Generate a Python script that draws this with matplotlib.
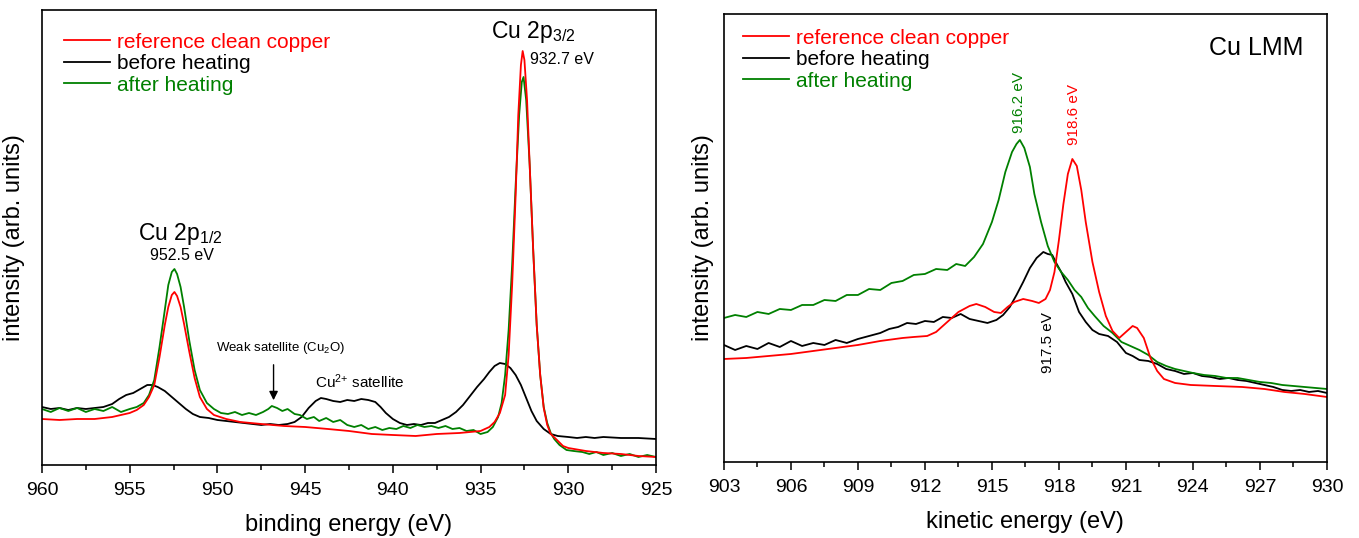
import matplotlib.pyplot as plt
from matplotlib.ticker import MultipleLocator

plt.rcParams['font.family'] = ['Liberation Sans', 'DejaVu Sans']
plt.rcParams['mathtext.fontset'] = 'custom'
plt.rcParams['mathtext.rm'] = 'Liberation Sans'
plt.rcParams['mathtext.default'] = 'regular'

# ---- Cu 2p (binding energy, eV) ----
be_red = [960, 959, 958, 957, 956, 955.5, 955, 954.6, 954.2, 953.9, 953.6, 953.3, 953.0, 952.8,
          952.6, 952.45, 952.3, 952.1, 951.9, 951.6, 951.3, 951.0, 950.6, 950.2, 949.5, 948.7,
          947.5, 946.2, 945, 943.7, 942.5, 941.2, 940, 938.7, 937.5, 936.2, 935.0, 934.5, 934.2,
          933.9, 933.6, 933.4, 933.2, 933.0, 932.85, 932.7, 932.6, 932.5, 932.35, 932.2, 932.0,
          931.8, 931.6, 931.4, 931.2, 931.0, 930.7, 930.3, 930.0, 929, 928, 927, 926, 925]
i_red = [46, 45, 46, 46, 48, 50, 52, 55, 60, 68, 80, 108, 140, 158,
         170, 173, 169, 158, 141, 113, 87, 68, 56, 50, 46, 43,
         41, 39, 38, 36, 34, 31, 30, 29, 31, 32, 34, 38, 43,
         52, 70, 110, 180, 270, 350, 400, 414, 405, 365, 300, 215,
         140, 90, 57, 40, 31, 26, 19, 17, 14, 12, 11, 9, 8]

be_black = [960, 959.5, 959, 958.5, 958, 957.5, 957, 956.5, 956, 955.6, 955.2, 954.8, 954.4, 954.0,
            953.7, 953.4, 953.0, 952.6, 952.2, 951.8, 951.4, 951.0, 950.5, 950.0, 949.5, 949.0,
            948.5, 948.0, 947.5, 947.0, 946.5, 946.0, 945.6, 945.2, 944.8, 944.4, 944.1, 943.8,
            943.4, 943.0, 942.6, 942.2, 941.8, 941.4, 941.0, 940.7, 940.4, 940.0, 939.6, 939.2,
            938.8, 938.4, 938.0, 937.6, 937.2, 936.8, 936.4, 936.0, 935.6, 935.2, 934.8, 934.5,
            934.2, 933.9, 933.6, 933.3, 933.0, 932.7, 932.4, 932.1, 931.8, 931.4, 931.0, 930.6,
            930.0, 929.5, 929.0, 928.5, 928, 927, 926, 925]
i_black = [58, 56, 57, 55, 57, 56, 57, 58, 61, 66, 70, 72, 76, 80,
           80, 78, 74, 68, 62, 56, 51, 48, 47, 45, 44, 43,
           42, 41, 40, 41, 40, 41, 43, 48, 57, 64, 67, 66,
           64, 63, 65, 64, 66, 65, 63, 58, 52, 46, 42, 40,
           41, 40, 42, 42, 45, 48, 53, 60, 69, 78, 86, 93,
           99, 102, 101, 97, 90, 80, 67, 54, 44, 36, 31, 29,
           28, 27, 28, 27, 28, 27, 27, 26]

be_green = [960, 959.5, 959, 958.5, 958, 957.5, 957, 956.5, 956, 955.5, 955, 954.6, 954.2, 953.9,
            953.6, 953.3, 953.0, 952.8, 952.6, 952.45, 952.3, 952.1, 951.9, 951.6, 951.3, 951.0,
            950.6, 950.2, 949.8, 949.4, 949.0, 948.6, 948.2, 947.8, 947.4, 947.1, 946.9, 946.6,
            946.3, 946.0, 945.6, 945.3, 944.9, 944.5, 944.2, 943.8, 943.4, 943.0, 942.6, 942.2,
            941.8, 941.4, 941.0, 940.6, 940.2, 939.8, 939.4, 939.0, 938.6, 938.2, 937.8, 937.4,
            937.0, 936.6, 936.2, 935.8, 935.4, 935.0, 934.6, 934.3, 934.0, 933.8, 933.6, 933.4,
            933.2, 933.0, 932.8, 932.65, 932.55, 932.4, 932.2, 932.0, 931.8, 931.6, 931.4, 931.2,
            931.0, 930.8, 930.5, 930.1, 929.7, 929.2, 928.8, 928.4, 928, 927.5, 927, 926.5, 926,
            925.5, 925]
i_green = [56, 53, 57, 54, 57, 53, 56, 54, 58, 53, 56, 58, 62, 70,
           85, 118, 155, 180, 193, 196, 191, 178, 158, 124, 95, 75,
           62, 56, 52, 51, 53, 50, 52, 50, 53, 56, 59, 57,
           54, 56, 51, 50, 46, 48, 44, 47, 43, 45, 40, 38,
           40, 36, 38, 35, 37, 36, 39, 37, 40, 38, 39, 37,
           39, 36, 37, 34, 35, 31, 33, 38, 48, 62, 90, 135,
           200, 280, 350, 383, 388, 365, 300, 215, 140, 90, 58, 42,
           32, 26, 20, 15, 14, 13, 11, 13, 10, 12, 9, 11, 8,
           10, 8]

# ---- Cu LMM (kinetic energy, eV) ----
ke_red = [903, 904, 905, 906, 907, 908, 909, 910, 911, 911.5, 912.1, 912.5, 913, 913.5, 914,
          914.3, 914.7, 915.1, 915.4, 915.7, 916.0, 916.4, 916.8, 917.1, 917.4, 917.6, 917.8,
          918.0, 918.2, 918.4, 918.6, 918.8, 919.0, 919.2, 919.5, 919.8, 920.1, 920.4, 920.7,
          921.0, 921.3, 921.5, 921.8, 922.1, 922.4, 922.7, 923.2, 923.9, 925, 926.2, 927.2,
          928.1, 929, 930]
i_red2 = [103, 104, 106, 108, 111, 114, 117, 121, 124, 125, 126, 130, 140, 150, 156,
          158, 155, 150, 149, 155, 160, 163, 161, 159, 163, 172, 190,
          222, 258, 288, 303, 296, 272, 240, 200, 170, 146, 131, 124,
          130, 136, 134, 124, 104, 91, 83, 79, 77, 76, 75, 73,
          70, 68, 65]

ke_black = [903, 903.5, 904, 904.5, 905, 905.5, 906, 906.5, 907, 907.5, 908, 908.5, 909, 909.5,
            910, 910.4, 910.8, 911.2, 911.6, 912, 912.4, 912.8, 913.2, 913.6, 914, 914.4, 914.8,
            915.2, 915.5, 915.8, 916.1, 916.4, 916.7, 917.0, 917.3, 917.5, 917.7, 917.9, 918.1,
            918.3, 918.6, 918.9, 919.2, 919.5, 919.8, 920.2, 920.6, 921.0, 921.3, 921.6, 922.0,
            922.4, 922.8, 923.2, 923.6, 924.0, 924.4, 924.8, 925.2, 925.6, 926.0, 926.4, 926.8,
            927.2, 927.6, 928.0, 928.4, 928.8, 929.2, 929.6, 930]
i_black2 = [117, 112, 116, 113, 119, 115, 121, 116, 119, 117, 122, 119, 123, 126,
            129, 133, 135, 139, 138, 141, 140, 145, 144, 148, 143, 141, 139,
            142, 147, 155, 167, 180, 194, 204, 210, 208, 207, 198, 190,
            180, 168, 150, 140, 132, 128, 126, 120, 109, 106, 102, 101,
            98, 93, 91, 88, 89, 86, 85, 83, 84, 82, 81, 79,
            77, 75, 72, 71, 72, 70, 71, 69]

ke_green = [903, 903.5, 904, 904.5, 905, 905.5, 906, 906.5, 907, 907.5, 908, 908.5, 909, 909.5,
            910, 910.5, 911, 911.5, 912, 912.5, 913, 913.4, 913.8, 914.2, 914.6, 915.0, 915.3,
            915.6, 915.9, 916.1, 916.25, 916.45, 916.7, 916.9, 917.2, 917.5, 917.8, 918.1, 918.4,
            918.7, 919.0, 919.3, 919.6, 920.0, 920.4, 920.8, 921.2, 921.6, 922.0, 922.4, 922.8,
            923.2, 923.6, 924.0, 924.5, 925, 925.5, 926, 926.5, 927, 927.5, 928, 928.5, 929,
            929.5, 930]
i_green2 = [144, 147, 145, 150, 148, 153, 152, 157, 157, 162, 161, 167, 167, 173,
            172, 179, 181, 187, 188, 193, 192, 198, 196, 205, 218, 240, 262,
            290, 310, 318, 322, 314, 295, 268, 240, 216, 200, 190, 182,
            172, 165, 154, 146, 136, 129, 120, 116, 112, 107, 100, 96,
            93, 91, 89, 87, 86, 84, 84, 82, 80, 79, 77, 76, 75,
            74, 73]

RED = '#ff0000'
BLACK = '#000000'
GREEN = '#008000'

fig = plt.figure(figsize=(13.59, 5.38), dpi=100)
ax1 = fig.add_axes([0.0309, 0.1357, 0.4518, 0.8457])
ax2 = fig.add_axes([0.5327, 0.1413, 0.4437, 0.8327])

ax1.plot(be_black, i_black, color=BLACK, lw=1.3, label='before heating')
ax1.plot(be_green, i_green, color=GREEN, lw=1.3, label='after heating')
ax1.plot(be_red, i_red, color=RED, lw=1.3, label='reference clean copper')

ax2.plot(ke_black, i_black2, color=BLACK, lw=1.3, label='before heating')
ax2.plot(ke_green, i_green2, color=GREEN, lw=1.3, label='after heating')
ax2.plot(ke_red, i_red2, color=RED, lw=1.3, label='reference clean copper')

ax1.set_xlim(960, 925)
ax1.set_ylim(0, 455)
ax2.set_xlim(903, 930)
ax2.set_ylim(0, 448)

ax1.xaxis.set_major_locator(MultipleLocator(5))
ax1.xaxis.set_minor_locator(MultipleLocator(2.5))
ax2.xaxis.set_major_locator(MultipleLocator(3))
ax2.xaxis.set_minor_locator(MultipleLocator(1.5))

leg_anchor = {ax1: (0.0358, 0.95), ax2: (0.0315, 0.967)}
for ax in (ax1, ax2):
    ax.set_yticks([])
    ax.tick_params(axis='x', which='major', direction='out', length=6, width=1.1,
                   labelsize=14, pad=6)
    ax.tick_params(axis='x', which='minor', direction='out', length=3.6, width=1.1)
    for s in ax.spines.values():
        s.set_linewidth(1.2)
    handles, labels = ax.get_legend_handles_labels()
    order = [2, 0, 1]
    leg = ax.legend([handles[k] for k in order], [labels[k] for k in order],
                    loc='upper left', bbox_to_anchor=leg_anchor[ax], frameon=False,
                    fontsize=15, handlelength=2.2, handletextpad=0.35, labelspacing=0.12,
                    borderaxespad=0, borderpad=0)
    for txt, ln in zip(leg.get_texts(), leg.get_lines()):
        txt.set_color(ln.get_color())

ax1.set_ylabel('intensity (arb. units)', fontsize=17, labelpad=12)
ax2.set_ylabel('intensity (arb. units)', fontsize=17, labelpad=7)
ax1.set_xlabel('binding energy (eV)', fontsize=17, labelpad=11)
ax2.set_xlabel('kinetic energy (eV)', fontsize=17, labelpad=11)

# annotations, Cu 2p
ax1.text(952.1, 225, 'Cu 2p$_{1/2}$', fontsize=16.5, ha='center', va='baseline')
ax1.text(952.05, 209, '952.5 eV', fontsize=11.5, ha='center', va='center')
ax1.text(932.0, 427, 'Cu 2p$_{3/2}$', fontsize=16.5, ha='center', va='baseline')
ax1.text(932.17, 406, '932.7 eV', fontsize=11.5, ha='left', va='center')
ax1.text(946.4, 117, 'Weak satellite (Cu$_2$O)', fontsize=9.5, ha='center', va='center')
ax1.annotate('', xy=(946.8, 62), xytext=(946.8, 103),
             arrowprops=dict(arrowstyle='-|>', color='black', lw=1, mutation_scale=13))
ax1.text(941.9, 83, 'Cu$^{2{+}}$ satellite', fontsize=11, ha='center', va='center')

# annotations, Cu LMM
ax2.text(926.82, 414, 'Cu LMM', fontsize=18, ha='center', va='center')
ax2.text(916.21, 359, '916.2 eV', fontsize=11, color=GREEN, rotation=90, ha='center', va='center')
ax2.text(918.66, 347, '918.6 eV', fontsize=11, color=RED, rotation=90, ha='center', va='center')
ax2.text(917.5, 119, '917.5 eV', fontsize=11, color=BLACK, rotation=90, ha='center', va='center')

fig.savefig('out.png', dpi=100)
